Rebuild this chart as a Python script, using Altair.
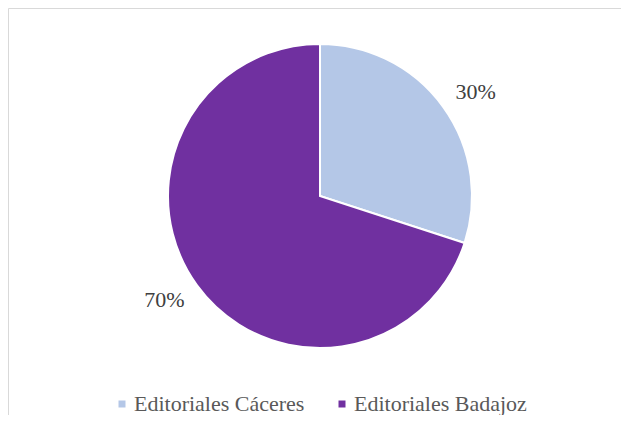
import altair as alt
import pandas as pd

categories = ["Editoriales Cáceres", "Editoriales Badajoz"]
values = [30, 70]
labels = ["30%", "70%"]
colors = ["#B4C7E7", "#7030A0"]

df = pd.DataFrame({"cat": categories, "val": values, "lab": labels, "ord": [0, 1]})

CX, CY, R = 310, 186, 152
SERIF = "'Liberation Serif', 'DejaVu Serif', serif"

base = alt.Chart(df).encode(
    theta=alt.Theta("val:Q", stack=True),
    order=alt.Order("ord:Q"),
)

pie = base.mark_arc(outerRadius=R, stroke="white", strokeWidth=2).encode(
    x=alt.value(CX), y=alt.value(CY),
    color=alt.Color(
        "cat:N",
        scale=alt.Scale(domain=categories, range=colors),
        sort=categories,
        legend=alt.Legend(
            title=None, orient="none", direction="horizontal",
            legendX=101, legendY=383,
            symbolType="square", symbolSize=49, symbolStrokeWidth=0,
            labelFont=SERIF, labelFontSize=22, labelColor="#595959",
            labelOffset=1, columnPadding=26, labelLimit=400,
        ),
    ),
)

text = base.mark_text(radius=187, thetaOffset=0.04, font=SERIF, fontSize=22, color="#404040").encode(
    x=alt.value(CX), y=alt.value(CY), text="lab:N"
)

frame = pd.DataFrame({"k": [0]})
top_line = alt.Chart(frame).mark_rule(color="#D9D9D9", strokeWidth=1).encode(
    x=alt.value(-1.5), x2=alt.value(620), y=alt.value(-1.5)
)
left_line = alt.Chart(frame).mark_rule(color="#D9D9D9", strokeWidth=1).encode(
    x=alt.value(-1.5), y=alt.value(-1.5), y2=alt.value(420)
)

chart = alt.layer(top_line, left_line, pie, text).properties(
    width=611, height=405,
    autosize=alt.AutoSizeParams(type="none"),
    padding={"left": 2, "top": 2, "right": 0, "bottom": 0},
).configure_view(stroke=None)

chart.save("out.html", embed_options={"renderer": "svg", "actions": False})
